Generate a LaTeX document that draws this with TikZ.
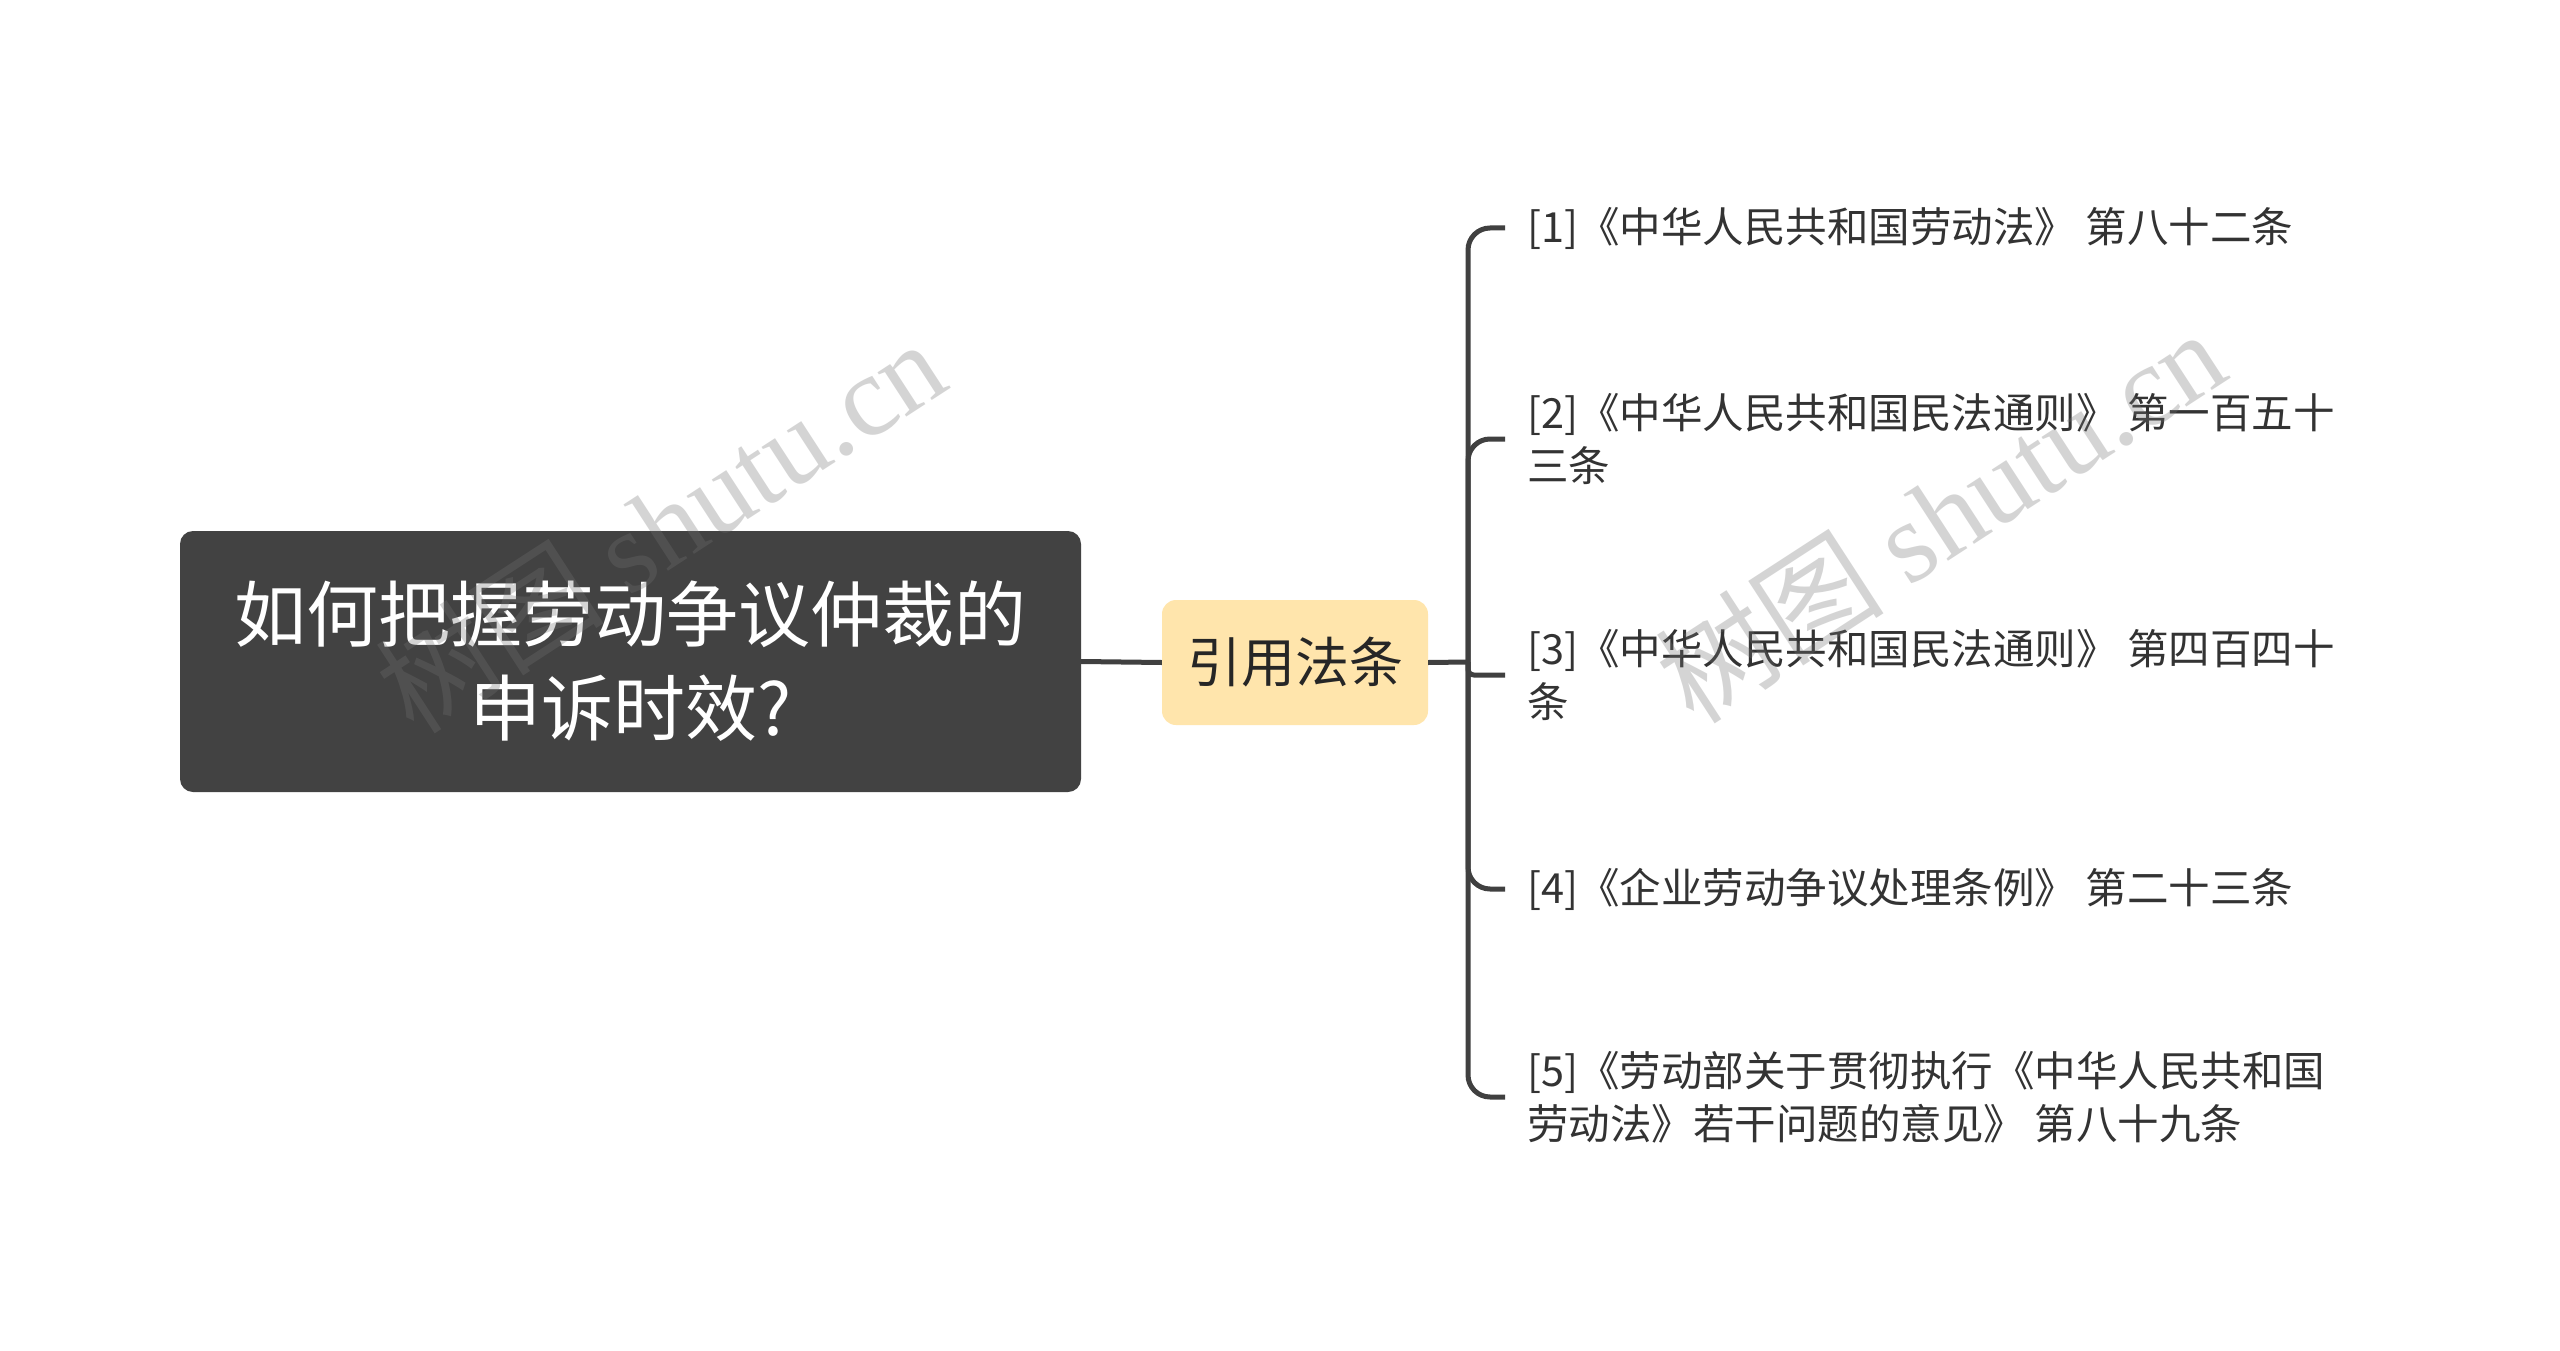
\documentclass[tikz,border=0pt]{standalone}
\usepackage{fontspec}
\setmainfont{Noto Sans CJK SC}
\newfontfamily\wmlatin{Liberation Serif}
\definecolor{rootfill}{HTML}{424242}
\definecolor{subfill}{HTML}{FFE5AC}
\definecolor{linecol}{HTML}{404040}
\definecolor{leaftext}{HTML}{333333}
\tikzset{
  rootbox/.style={draw=none, fill=rootfill, rounded corners=13pt, minimum width=901pt, minimum height=261pt,
    inner sep=0pt, align=center, text=white, font=\fontsize{72}{94}\selectfont},
  subbox/.style={draw=none, fill=subfill, rounded corners=14pt, minimum width=266pt, minimum height=125pt,
    inner sep=0pt, align=center, text=black!85, font=\fontsize{54}{60}\selectfont},
  leaf/.style={anchor=west, inner sep=0pt, align=left, text=leaftext, font=\fontsize{41.5}{53}\selectfont},
  conn/.style={draw=linecol, line width=5pt},
  wm/.style={text=black!55, text opacity=0.3, inner sep=0pt, font=\fontsize{115}{120}\selectfont}
}
\begin{document}
\begin{tikzpicture}[x=1pt,y=-1pt]
\useasboundingbox (0,0) rectangle (2560,1351);
\fill[white] (0,0) rectangle (2560,1351);

\node[rootbox] (root) at (630.5,661.5) {如何把握劳动争议仲裁的\\申诉时效?};
\node[subbox] (sub) at (1295,662.5) {引用法条};

\node[leaf] (l1) at (1527,228) {[1]《中华人民共和国劳动法》 第八十二条};
\node[leaf] (l2) at (1527,439) {[2]《中华人民共和国民法通则》 第一百五十\\三条};
\node[leaf] (l3) at (1527,675) {[3]《中华人民共和国民法通则》 第四百四十\\条};
\node[leaf] (l4) at (1527,889) {[4]《企业劳动争议处理条例》 第二十三条};
\node[leaf] (l5) at (1527,1097) {[5]《劳动部关于贯彻执行《中华人民共和国\\劳动法》若干问题的意见》 第八十九条};

\coordinate (J) at (1468,662);
\draw[conn] (root.east) -- (sub.west);
\draw[conn] (sub.east) -- (J);
\draw[conn, rounded corners=22pt] (J) |- ([xshift=-22pt]l1.west);
\draw[conn, rounded corners=22pt] (J) |- ([xshift=-22pt]l2.west);
\draw[conn, rounded corners=6pt] (J) |- ([xshift=-22pt]l3.west);
\draw[conn, rounded corners=22pt] (J) |- ([xshift=-22pt]l4.west);
\draw[conn, rounded corners=22pt] (J) |- ([xshift=-22pt]l5.west);

\node[wm, rotate=33] (wm1) at (660,525) {树图 {\wmlatin shutu.cn}};
\node[wm, rotate=33] (wm2) at (1940,515) {树图 {\wmlatin shutu.cn}};
\end{tikzpicture}
\end{document}
